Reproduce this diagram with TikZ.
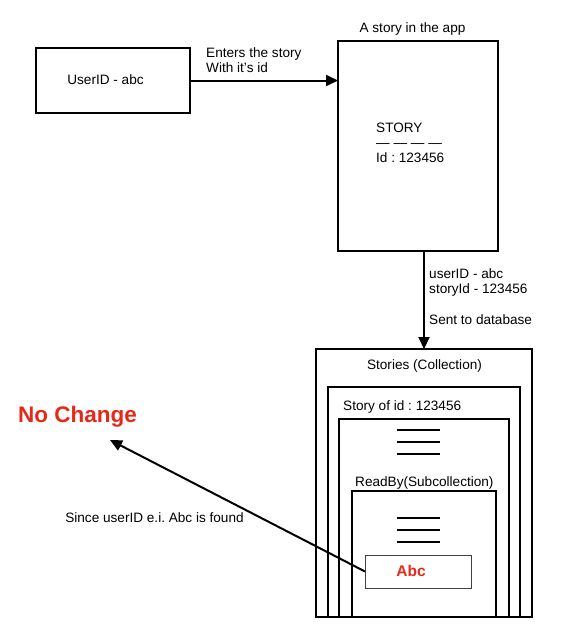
\documentclass[tikz,border=0pt]{standalone}
\usepackage{fontspec}
\setmainfont{Liberation Sans}
\usetikzlibrary{arrows.meta}
\definecolor{alertred}{RGB}{232,40,22}
\frenchspacing
\begin{document}
\begin{tikzpicture}[x=1pt,y=-1pt,
  box/.style={draw, line width=2.4pt, inner sep=0pt, outer sep=0pt, anchor=north west},
  thinbox/.style={draw=black!75, line width=1pt, inner sep=0pt, outer sep=0pt, anchor=north west},
  lbl/.style={font=\fontsize{13.6}{15}\selectfont, inner sep=0pt},
  conn/.style={line width=2pt, -{Triangle[length=12pt,width=11pt]}},
  bar/.style={line width=2pt},
  redbold/.style={text=alertred, inner sep=0pt}]
\useasboundingbox (0,0) rectangle (571,643);

% boxes
\node[box, minimum width=154pt, minimum height=65pt] (user) at (36,48) {};
\node[box, minimum width=160pt, minimum height=210pt] (story) at (338,41) {};
\node[box, minimum width=216pt, minimum height=268pt] (stories) at (316,349) {};
\node[box, minimum width=192pt, minimum height=230pt] (storyid) at (328,387) {};
\node[box, minimum width=170pt, minimum height=198pt] (storydoc) at (339,419) {};
\node[box, minimum width=144pt, minimum height=126pt] (readby) at (352,491) {};
\node[thinbox, minimum width=106pt, minimum height=33pt] (abc) at (365,555) {};

% texts
\node[lbl] (usertxt) at (105.5,80) {UserID - abc};
\node[lbl, anchor=west, align=left] (enters) at (206,60.5) {Enters the story\\With it’s id};
\node[lbl] (apptitle) at (412.5,29) {A story in the app};
\node[lbl, anchor=west, align=left] (storytxt) at (376,143) {STORY\\— — — —\\Id : 123456};
\node[lbl, anchor=west, align=left] (payload) at (429,282.5) {userID - abc\\storyId - 123456};
\node[lbl, anchor=west] (sent) at (429,320) {Sent to database};
\node[lbl] (storiestxt) at (424.5,366) {Stories (Collection)};
\node[lbl, anchor=west] (storyidtxt) at (343,407) {Story of id : 123456};
\node[lbl, anchor=west] (readbytxt) at (355,483) {ReadBy(Subcollection)};
\node[redbold, font=\fontsize{15.5}{18}\selectfont\bfseries] (abctxt) at (411,570.5) {Abc};
\node[redbold, anchor=west, font=\fontsize{22.5}{26}\selectfont\bfseries] (nochange) at (18,417) {No Change};
\node[lbl] (since) at (154.5,518) {Since userID e.i. Abc is found};

% field bars
\foreach \yy in {430,442,454,518,530,542}
  \draw[bar] (397,\yy) -- (440,\yy);

% connectors
\draw[conn] (user.east) -- (user.east -| story.west);
\coordinate (dbx) at (424,0);
\draw[conn] (story.south -| dbx) -- (stories.north -| dbx);
\coordinate (nctip) at (110,440);
\draw[conn] (abc.west) -- (nctip);
\end{tikzpicture}
\end{document}
